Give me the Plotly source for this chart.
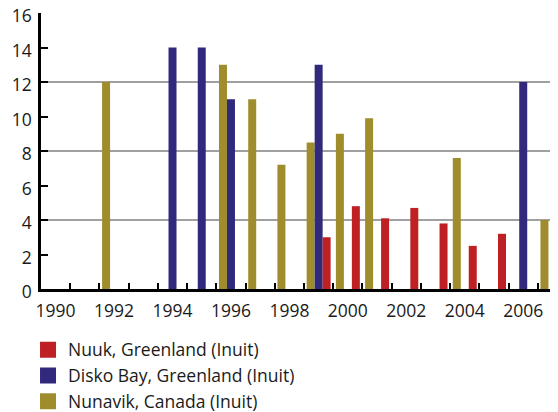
import plotly.graph_objects as go

# ---- data ----
years = list(range(1990, 2008))
nuuk = [None]*9 + [3.0, 4.8, 4.1, 4.7, 3.8, 2.5, 3.2] + [None, None]
disko = [None, None, None, None, 14, 14, 11, None, None, 13,
         None, None, None, None, None, None, 12, None]
nunavik = [None, None, 12, None, None, None, 13, 11, 7.2, 8.5,
           9, 9.9, None, None, 7.6, None, None, 4]
tick_labels = [1990, 1992, 1994, 1996, 1998, 2000, 2002, 2004, 2006]
y_ticks = [0, 2, 4, 6, 8, 10, 12, 14, 16]

series_names = ["Nuuk, Greenland (Inuit)", "Disko Bay, Greenland (Inuit)", "Nunavik, Canada (Inuit)"]
colors = {"nuuk": "#BE2024", "disko": "#30297C", "nunavik": "#9F8C2D"}

FONT = "Open Sans, Lato, sans-serif"
X_RANGE = [1989.5, 2007.19]

fig = go.Figure()
# bars: order in group = Nunavik, Disko, Nuuk
for vals, key in [(nunavik, "nunavik"), (disko, "disko"), (nuuk, "nuuk")]:
    fig.add_trace(go.Bar(x=years, y=vals, marker_color=colors[key], marker_line_width=0,
                         showlegend=False, hoverinfo="x+y"))

# legend entries (square swatches)
for name, key, rank in [(series_names[0], "nuuk", 1), (series_names[1], "disko", 2),
                        (series_names[2], "nunavik", 3)]:
    fig.add_trace(go.Scatter(x=[None], y=[None], mode="markers", name=name, legendrank=rank,
                             marker=dict(symbol="square", size=16, color=colors[key])))

# helper trace for label axis / grid axis
fig.add_trace(go.Scatter(x=tick_labels, y=[0]*len(tick_labels), xaxis="x2", yaxis="y2",
                         mode="markers", marker=dict(size=0, opacity=0),
                         showlegend=False, hoverinfo="skip"))

fig.update_layout(
    width=550, height=404,
    margin=dict(l=33, r=0, t=4.7, b=123.3, autoexpand=False),
    paper_bgcolor="white", plot_bgcolor="white",
    font=dict(family=FONT, size=17.5, color="#1a1a1a"),
    barmode="group", bargap=0.18, bargroupgap=0,
    xaxis=dict(range=X_RANGE, tick0=1989.5, dtick=1, showticklabels=False,
               ticks="inside", ticklen=6, tickwidth=2, tickcolor="black",
               showgrid=False, zeroline=False, showline=True, linecolor="black", linewidth=2.5),
    xaxis2=dict(overlaying="x", anchor="y", side="bottom",
                range=X_RANGE, tickmode="array", tickvals=tick_labels,
                ticktext=[str(t) for t in tick_labels], ticks="", showgrid=False,
                zeroline=False, showline=False, ticklabelstandoff=9, tickangle=0,
                automargin=False, ticklabeloverflow="allow"),
    yaxis=dict(range=[0, 16], tickmode="array", tickvals=y_ticks,
               ticks="inside", ticklen=7, tickwidth=2, tickcolor="black",
               showgrid=False, zeroline=False, showline=True, linecolor="black", linewidth=2.5,
               ticklabelstandoff=3, ticklabelshift=3, ticklabeloverflow="allow",
               automargin=False),
    yaxis2=dict(overlaying="y", anchor="x", range=[0, 16], dtick=4, showgrid=True,
                gridcolor="#a0a0a0", gridwidth=2, showticklabels=False, ticks="",
                zeroline=False, showline=False),
    legend=dict(orientation="v", x=-0.0251, y=-0.155,
                xanchor="left", yanchor="top", font=dict(size=17.5, family=FONT),
                bgcolor="rgba(0,0,0,0)", itemclick=False),
)

fig.write_html("out.html")
